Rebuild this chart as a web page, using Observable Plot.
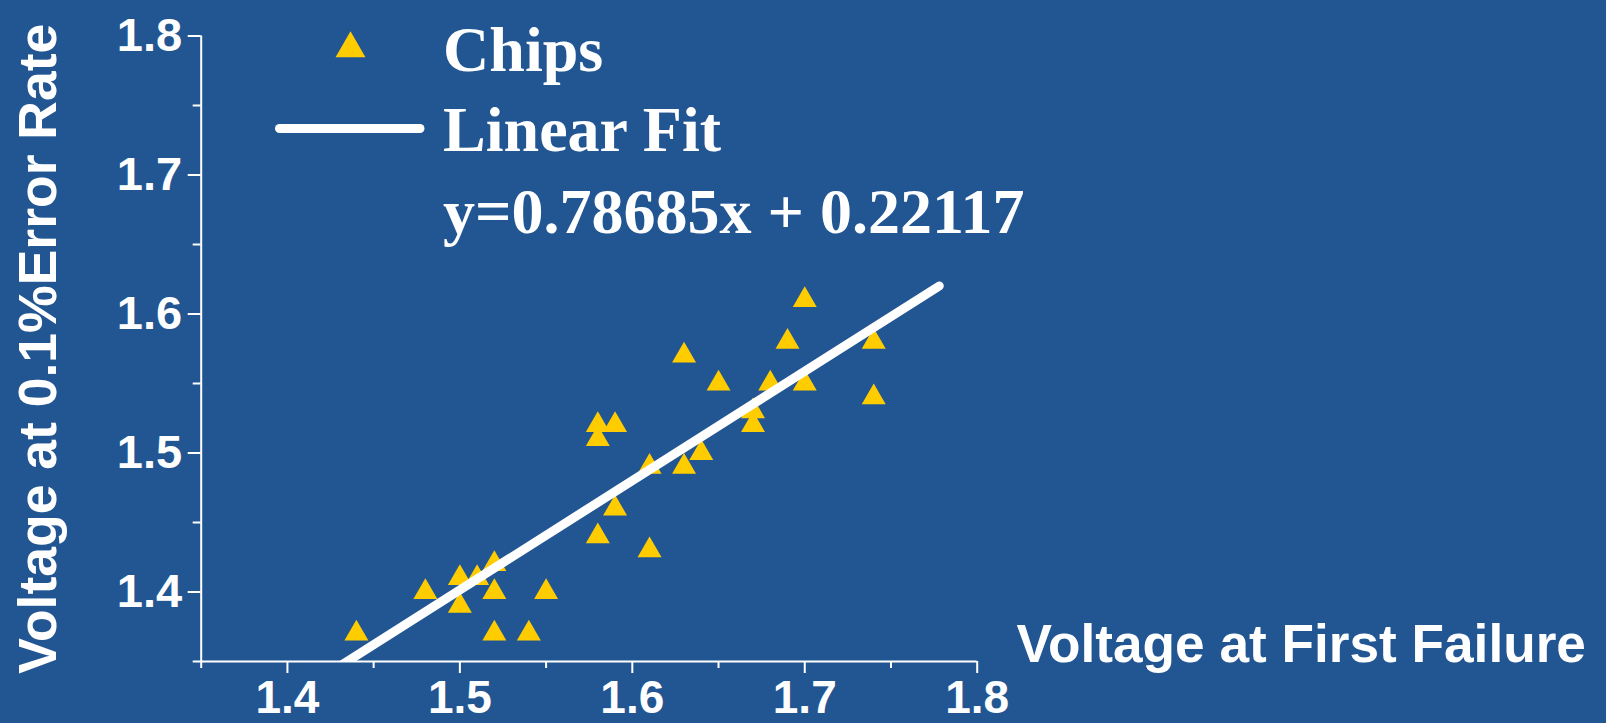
<!DOCTYPE html>
<html>
<head>
<meta charset="utf-8">
<script src="https://cdn.jsdelivr.net/npm/d3@7"></script>
<script src="https://cdn.jsdelivr.net/npm/@observablehq/plot@0.6"></script>
<style>
  html, body { margin: 0; padding: 0; background: #225693; overflow: hidden; }
</style>
</head>
<body>
<div id="chart"></div>
<script>
// ---- data ----
const chipX = [1.44, 1.48, 1.50, 1.50, 1.51, 1.52, 1.52, 1.52, 1.54, 1.55,
               1.58, 1.59, 1.58, 1.58, 1.59, 1.61, 1.63, 1.64, 1.61, 1.63,
               1.65, 1.68, 1.67, 1.67, 1.69, 1.70, 1.70, 1.74, 1.74];
const chipY = [1.37, 1.40, 1.41, 1.39, 1.41, 1.42, 1.40, 1.37, 1.37, 1.40,
               1.44, 1.46, 1.52, 1.51, 1.52, 1.49, 1.49, 1.50, 1.43, 1.57,
               1.55, 1.55, 1.53, 1.52, 1.58, 1.61, 1.55, 1.58, 1.54];
const fitSlope = 0.78685;
const fitIntercept = 0.22117;
const fitRange = [1.43, 1.778];
const axisDomain = [1.35, 1.8];
const xTicks = [1.4, 1.5, 1.6, 1.7, 1.8];
const xMinorTicks = [1.35, 1.45, 1.55, 1.65, 1.75];
const yTicks = [1.4, 1.5, 1.6, 1.7, 1.8];
const yMinorTicks = [1.35, 1.45, 1.55, 1.65, 1.75];
const xLabel = "Voltage at First Failure";
const yLabel = "Voltage at 0.1%Error Rate";
const legendLabels = ["Chips", "Linear Fit", "y=0.78685x + 0.22117"];

// ---- build ----
const chips = chipX.map((x, i) => ({x, y: chipY[i]}));
const fit = fitRange.map(x => ({x, y: fitSlope * x + fitIntercept}));

const BG = "#225693";
const GOLD = "#FFCC00";
const SANS = "'Liberation Sans', Arial, sans-serif";
const SERIF = "'Liberation Serif', 'Times New Roman', serif";
const fmt = d => d.toFixed(1);

const legendLine = {
  draw(ctx) { ctx.moveTo(-70.25, 0); ctx.lineTo(70.25, 0); }
};

const chart = Plot.plot({
  width: 1606,
  height: 723,
  marginLeft: 200.7,
  marginRight: 629.3,
  marginTop: 35.5,
  marginBottom: 62,
  x: {domain: axisDomain},
  y: {domain: axisDomain},
  style: {
    background: BG,
    color: "white",
    fontFamily: SANS,
    fontWeight: "bold",
    fontSize: "47px",
    overflow: "visible"
  },
  marks: [
    Plot.ruleY([axisDomain[0]], {stroke: "white", strokeWidth: 2}),
    Plot.ruleX([axisDomain[0]], {stroke: "white", strokeWidth: 2}),
    Plot.axisX(xTicks, {tickSize: 12, tickPadding: 7, tickFormat: fmt, label: null, stroke: "white", strokeWidth: 2, fill: "white", fontSize: 46}),
    Plot.axisX(xMinorTicks, {tickSize: 7, tickFormat: () => "", label: null, stroke: "white", strokeWidth: 2}),
    Plot.axisY(yTicks, {tickSize: 13, tickPadding: 6, tickFormat: fmt, label: null, stroke: "white", strokeWidth: 2, fill: "white"}),
    Plot.axisY(yMinorTicks, {tickSize: 8, tickFormat: () => "", label: null, stroke: "white", strokeWidth: 2}),
    Plot.dot(chips, {x: "x", y: "y", symbol: "triangle", r: 8.9, fill: GOLD}),
    Plot.line(fit, {x: "x", y: "y", stroke: "white", strokeWidth: 9, strokeLinecap: "round", clip: true}),
    // axis titles
    Plot.text([xLabel], {frameAnchor: "bottom-right", text: d => d, textAnchor: "start", lineAnchor: "bottom",
      dx: 39.3, dy: 0, fontSize: 53.2, fontFamily: SANS, fontWeight: "bold", fill: "white"}),
    Plot.text([yLabel], {frameAnchor: "left", text: d => d, rotate: -90, textAnchor: "middle", lineAnchor: "middle",
      dx: -162.8, dy: 0, fontSize: 53.5, fontFamily: SANS, fontWeight: "bold", fill: "white"}),
    // legend
    Plot.dot([legendLabels[0]], {frameAnchor: "top-left", dx: 149.3, dy: 12.5, symbol: "triangle", r: 11.1, fill: GOLD}),
    Plot.dot([legendLabels[1]], {frameAnchor: "top-left", dx: 148.55, dy: 92.5, symbol: legendLine, r: 1,
      fill: "none", stroke: "white", strokeWidth: 9, strokeLinecap: "round"}),
    Plot.text([legendLabels[0]], {frameAnchor: "top-left", text: d => d, textAnchor: "start", lineAnchor: "bottom",
      dx: 241.9, dy: 34.5, fontSize: 64, fontFamily: SERIF, fontWeight: "bold", fill: "white"}),
    Plot.text([legendLabels[1]], {frameAnchor: "top-left", text: d => d, textAnchor: "start", lineAnchor: "bottom",
      dx: 241.9, dy: 114.5, fontSize: 64, fontFamily: SERIF, fontWeight: "bold", fill: "white"}),
    Plot.text([legendLabels[2]], {frameAnchor: "top-left", text: d => d, textAnchor: "start", lineAnchor: "bottom",
      dx: 241.9, dy: 196.5, fontSize: 64, fontFamily: SERIF, fontWeight: "bold", fill: "white"})
  ]
});

document.getElementById("chart").appendChild(chart);
</script>
</body>
</html>
